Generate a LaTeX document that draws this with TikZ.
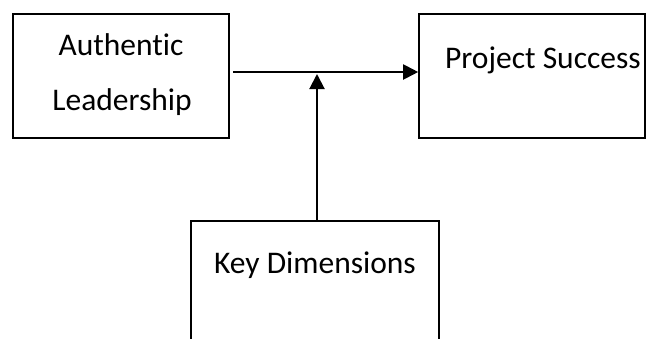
\documentclass[tikz,border=0pt]{standalone}
\usepackage{fontspec}
\setmainfont[Ligatures={NoCommon}]{Carlito}
\usetikzlibrary{arrows.meta}
\begin{document}
\begin{tikzpicture}[x=1pt,y=-1pt,
  box/.style={draw=black,line width=1.6pt,inner sep=0pt},
  lbl/.style={inner sep=0pt,font=\fontsize{31.5}{38}\selectfont},
  arr/.style={line width=2pt,-{Triangle[length=15pt,width=15pt]}}]
\path[use as bounding box,clip] (0,0) rectangle (656,338);
\node[box,minimum width=216pt,minimum height=124pt] (A) at (121,76) {};
\node[box,minimum width=226pt,minimum height=124pt] (P) at (532,76) {};
\node[box,minimum width=248pt,minimum height=160pt] (K) at (315,301) {};
\node[lbl,anchor=base] (a1) at (121,55) {Authentic};
\node[lbl,anchor=base] (a2) at (122,110) {Leadership};
\node[lbl,anchor=base west] (p1) at (445,68) {Project Success};
\node[lbl,anchor=base] (k1) at (315,273) {Key Dimensions};
\coordinate (h1) at (233,72);
\coordinate (v1) at (317,74);
\draw[arr] (h1) -- (h1 -| P.west);
\draw[arr] (K.north -| v1) -- (v1);
\end{tikzpicture}
\end{document}
